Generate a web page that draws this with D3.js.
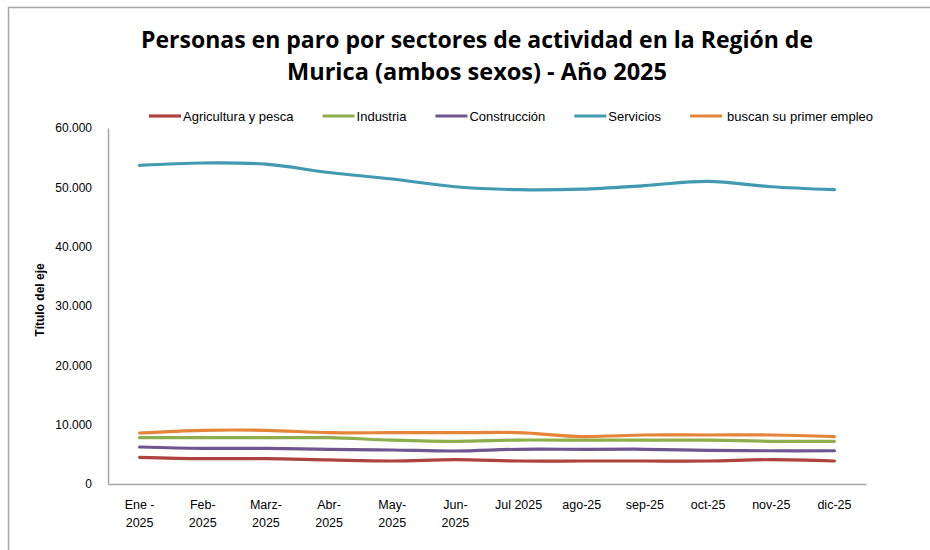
<!DOCTYPE html>
<html>
<head>
<meta charset="utf-8">
<script src="https://cdn.jsdelivr.net/npm/d3@7"></script>
<style>
  html, body { margin: 0; padding: 0; background: #fff; }
  svg { display: block; }
  text { font-family: "Liberation Sans Narrow", "Liberation Sans", Arial, sans-serif; fill: #000; }
</style>
</head>
<body>
<svg id="chart" width="930" height="550"></svg>
<script>
const months = [["Ene -", "2025"], ["Feb-", "2025"], ["Marz-", "2025"], ["Abr-", "2025"], ["May-", "2025"], ["Jun-", "2025"], ["Jul 2025"], ["ago-25"], ["sep-25"], ["oct-25"], ["nov-25"], ["dic-25"]];
const seriesNames = ["Agricultura y pesca", "Industria", "Construcción", "Servicios", "buscan su primer empleo"];
const agricultura = [4500, 4270, 4270, 4050, 3880, 4100, 3880, 3880, 3880, 3880, 4100, 3880];
const industria   = [7800, 7800, 7800, 7800, 7400, 7200, 7400, 7400, 7400, 7400, 7200, 7200];
const construccion = [6240, 6000, 6000, 5850, 5730, 5560, 5850, 5850, 5850, 5670, 5600, 5600];
const servicios   = [53700, 54100, 53900, 52500, 51400, 50100, 49600, 49700, 50300, 51000, 50100, 49600];
const primerEmpleo = [8600, 9050, 9050, 8650, 8650, 8650, 8650, 8000, 8260, 8260, 8260, 8000];
const yTicks = [0, 10000, 20000, 30000, 40000, 50000, 60000];
const colors = ["#AE423F", "#8DAE4A", "#6F5690", "#4299B2", "#E4853A"];

const allSeries = [agricultura, industria, construccion, servicios, primerEmpleo];

const svg = d3.select("#chart");

// outer chart border (extends beyond the canvas at right/bottom)
svg.append("rect").attr("x", 8.5).attr("y", 7.5).attr("width", 1000).attr("height", 1000)
  .attr("fill", "none").attr("stroke", "#a6a6a6").attr("stroke-width", 1.5);

const plot = { left: 108, right: 866, top: 128, bottom: 484 };

const x = d3.scaleBand().domain(d3.range(months.length)).range([plot.left, plot.right]);
const y = d3.scaleLinear().domain([0, 60000]).range([plot.bottom, plot.top]);
const fmt = v => d3.format(",")(v).replace(/,/g, ".");

// Title
const titleLines = ["Personas en paro por sectores de actividad en la Región de", "Murica (ambos sexos) - Año 2025"];
const titleWidths = [672, 380];
titleLines.forEach((t, i) => {
  svg.append("text").attr("x", 477).attr("y", 48 + i * 32)
    .attr("text-anchor", "middle")
    .style("font-family", "'Open Sans', 'Liberation Sans', sans-serif")
    .style("font-weight", "bold").style("font-size", "24px")
    .attr("textLength", titleWidths[i]).attr("lengthAdjust", "spacingAndGlyphs")
    .text(t);
});

// Axes
const yAxis = d3.axisLeft(y).tickValues(yTicks).tickFormat(fmt).tickSize(0).tickPadding(16);
const gy = svg.append("g").attr("transform", `translate(${plot.left},0)`).call(yAxis);
gy.select(".domain").attr("stroke", "#a6a6a6").attr("stroke-width", 1.5);
gy.selectAll("text").style("font-size", "12px").attr("fill", "#000");

const xAxis = d3.axisBottom(x).tickSize(0).tickFormat(() => "");
const gx = svg.append("g").attr("transform", `translate(0,${plot.bottom})`).call(xAxis);
gx.select(".domain").attr("stroke", "#a6a6a6").attr("stroke-width", 1.5);
gx.selectAll(".tick").each(function(d) {
  const t = d3.select(this).append("text").attr("text-anchor", "middle")
    .style("font-size", "12.5px").attr("fill", "#000");
  months[d].forEach((line, j) => {
    t.append("tspan").attr("x", 0).attr("y", 25 + j * 18).text(line);
  });
});

// Axis title
svg.append("text").attr("transform", "translate(44,300) rotate(-90)")
  .attr("text-anchor", "middle").style("font-weight", "bold").style("font-size", "12px")
  .text("Título del eje");

// Lines
const line = d3.line()
  .x((d, i) => x(i) + x.bandwidth() / 2)
  .y(d => y(d))
  .curve(d3.curveCatmullRom.alpha(0.5));

allSeries.forEach((s, k) => {
  svg.append("path").datum(s).attr("d", line)
    .attr("fill", "none").attr("stroke", colors[k]).attr("stroke-width", 3.2)
    .attr("stroke-linejoin", "round").attr("stroke-linecap", "round");
});

// Legend
const legend = svg.append("g").attr("transform", "translate(149,116)");
let lx = 0;
seriesNames.forEach((name, k) => {
  legend.append("line").attr("x1", lx).attr("x2", lx + 32).attr("y1", 0).attr("y2", 0)
    .attr("stroke", colors[k]).attr("stroke-width", 3.2);
  const offs = k === 4 ? 37 : 34;
  const t = legend.append("text").attr("x", lx + offs).attr("y", 4.5)
    .style("font-size", "13px").text(name);
  const w = t.node().getComputedTextLength();
  lx += offs + w + 29;
});
</script>
</body>
</html>
